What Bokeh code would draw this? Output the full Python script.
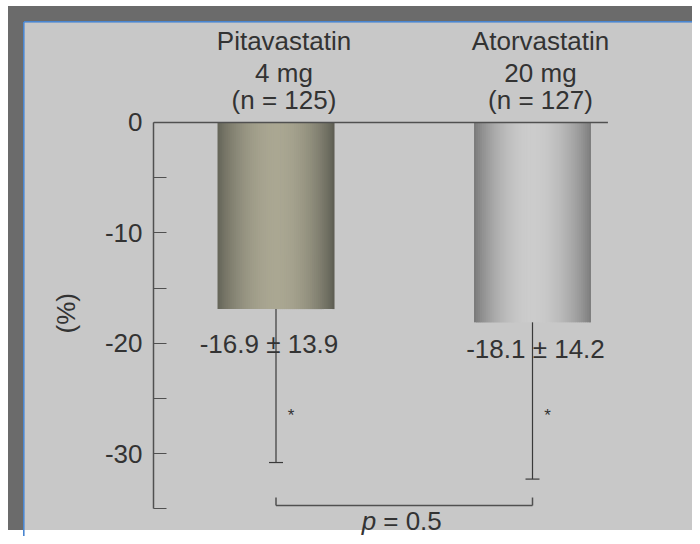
import numpy as np
from bokeh.plotting import figure
from bokeh.models import Range1d, FixedTicker, Title
from bokeh.core.properties import value
from bokeh.embed import file_html
from bokeh.resources import INLINE

# ---------------- data ----------------
groups = ["Pitavastatin", "Atorvastatin"]
doses = ["4 mg", "20 mg"]
n_labels = ["(n = 125)", "(n = 127)"]
mean_change = [-16.9, -18.1]
sd_change = [13.9, 14.2]
value_labels = ["-16.9 \u00b1 13.9", "-18.1 \u00b1 14.2"]
y_ticks = [0, -10, -20, -30]
y_minor_ticks = [-5, -15, -25, -35]
y_axis_label = "(%)"
p_symbol = "p"
p_value_text = "= 0.5"
signif_marks = ["*", "*"]

# ---------------- style ----------------
FONT = value("Liberation Sans")
TXT = "#333333"
LINE = "#505050"
positions = [1.0, 2.0]
bar_width = 0.456
px_per_x = 256.5
x_start, x_end = 1 - 122.5 / px_per_x, 2 + 160.0 / px_per_x
y_start, y_end = -37.5, 11.05

bar_grad = [
    ((98, 98, 86), (170, 167, 146), (90, 90, 80)),
    ((118, 118, 118), (204, 204, 204), (122, 122, 122)),
]
n_slices = 58

p = figure(width=692, height=536,
           x_range=Range1d(x_start, x_end), y_range=Range1d(y_start, y_end),
           output_backend="svg", toolbar_location=None,
           x_axis_location=None, y_axis_location="left",
           min_border_left=153, min_border_right=0, min_border_top=0, min_border_bottom=0,
           background_fill_alpha=0, border_fill_alpha=0,
           outline_line_color=None)
p.grid.visible = False

# panel decoration (dark frame, grey panel, blue guide lines) drawn as the figure's CSS background
p.styles = {
    "background": (
        "linear-gradient(#4a86d0,#4a86d0) 23px 22px / 1.6px 514px no-repeat,"
        "linear-gradient(#4a86d0,#4a86d0) 24px 21px / 668px 1.6px no-repeat,"
        "linear-gradient(#c8c8c8,#c8c8c8) 24px 22px / 668px 508px no-repeat,"
        "linear-gradient(#6b6b6b,#6b6b6b) 8px 6px / 684px 524px no-repeat,"
        "#ffffff"
    )
}

# ---- bars with horizontal gradient (slices computed from bar data) ----
for pos, m, (cl, cm, cr) in zip(positions, mean_change, bar_grad):
    t = (np.arange(n_slices) + 0.5) / n_slices
    w = np.sin(np.pi * t) ** 0.8
    cols = []
    for ti, wi in zip(t, w):
        edge = np.array(cl) * (1 - ti) + np.array(cr) * ti
        c = edge + (np.array(cm) - edge) * wi
        cols.append("#%02x%02x%02x" % tuple(int(round(v)) for v in c))
    sw = bar_width / n_slices
    lefts = pos - bar_width / 2 + np.arange(n_slices) * sw
    rights = np.minimum(lefts + 1.8 * sw, pos + bar_width / 2)
    p.quad(left=lefts, right=rights, top=[0] * n_slices, bottom=[m] * n_slices,
           fill_color=cols, line_color=None)

# ---- zero line ----
p.segment(x0=[x_start], y0=[0], x1=[positions[-1] + bar_width / 2 + 0.066], y1=[0],
          line_color=LINE, line_width=1.5)

# ---- error bars (lower only) ----
lows = [m - s for m, s in zip(mean_change, sd_change)]
cap = 14 / px_per_x
p.segment(x0=positions, y0=mean_change, x1=positions, y1=lows, line_color="#3a3a3a", line_width=1.2)
p.segment(x0=[x - cap / 2 for x in positions], y0=lows, x1=[x + cap / 2 for x in positions], y1=lows,
          line_color="#3a3a3a", line_width=1.2)

# ---- header labels ----
for txt, yy in ((groups, 6.73), (doses, 3.87), (n_labels, 1.39)):
    p.text(x=positions, y=[yy] * len(positions), text=txt, x_offset=8, y_offset=-7,
           text_font=FONT, text_font_size="26px", text_color=TXT,
           text_align="center", text_baseline="alphabetic")

# ---- value labels ----
p.text(x=positions, y=mean_change, text=value_labels, x_offset=[-7, 3], y_offset=[35, 27],
       text_font=FONT, text_font_size="26px", text_color=TXT,
       text_align="center", text_baseline="alphabetic")

# ---- asterisks ----
p.text(x=positions, y=[-27.0] * len(positions), text=signif_marks, x_offset=15, y_offset=-5,
       text_font=FONT, text_font_size="17px", text_color=TXT,
       text_align="center", text_baseline="alphabetic")

# ---- comparison bracket ----
br_y, br_top = -34.69, -33.97
p.segment(x0=[positions[0]], y0=[br_y], x1=[positions[1]], y1=[br_y], line_color=LINE, line_width=1.5)
p.segment(x0=positions, y0=[br_y] * 2, x1=positions, y1=[br_top] * 2, line_color=LINE, line_width=1.5)
mid = [(positions[0] + positions[1]) / 2]
p_y = [-36.7]
p.text(x=mid, y=p_y, text=[p_symbol], x_offset=-28, y_offset=-7, text_font=FONT, text_font_size="26px",
       text_font_style="italic", text_color=TXT, text_align="right", text_baseline="alphabetic")
p.text(x=mid, y=p_y, text=[p_value_text], x_offset=-21, y_offset=-7, text_font=FONT, text_font_size="26px",
       text_color=TXT, text_align="left", text_baseline="alphabetic")

# ---- y axis ----
ax = p.yaxis[0]
ax.ticker = FixedTicker(ticks=y_ticks, minor_ticks=y_minor_ticks)
ax.major_label_overrides = {t: ("%d" % t).replace("\u2212", "-") for t in y_ticks}
ax.bounds = (-35, 0)
ax.major_label_text_font = "Liberation Sans"
ax.major_label_text_font_size = "26px"
ax.major_label_text_color = TXT
ax.major_label_standoff = 11
ax.axis_line_color = LINE
ax.axis_line_width = 1.5
ax.major_tick_line_color = LINE
ax.minor_tick_line_color = LINE
ax.major_tick_in = 13
ax.major_tick_out = 0
ax.minor_tick_in = 13
ax.minor_tick_out = 0

ylab = Title(text=y_axis_label, align="left", offset=203, standoff=41,
             text_font="Liberation Sans", text_font_size="26px", text_font_style="normal",
             text_color=TXT)
p.add_layout(ylab, "left")

open("out.html", "w").write(file_html(p, INLINE))
